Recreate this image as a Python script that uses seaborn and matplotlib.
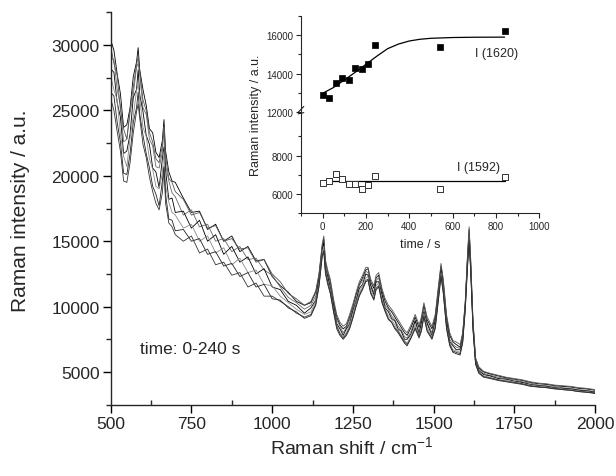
import numpy as np
import pandas as pd
import matplotlib
matplotlib.use("Agg")
import matplotlib.pyplot as plt
from matplotlib.ticker import FixedLocator, NullFormatter
import seaborn as sns

# ---------------- main spectra (Raman shift in cm-1, intensity in thousands a.u.) -------------
raman_shift = [
    500, 510, 520, 530, 540, 550, 560, 570, 580, 585, 590, 600,
    610, 620, 630, 640, 650, 660, 665, 670, 680, 690, 700,
    725, 750, 775, 800, 825, 850, 875, 900, 925, 950, 975, 1000,
    1025, 1050, 1075, 1100, 1120, 1135, 1145, 1155, 1160, 1165, 1172, 1180,
    1190, 1200, 1210, 1220, 1230, 1240, 1250, 1260, 1270, 1280, 1290, 1297,
    1305, 1315, 1322, 1330, 1340, 1350, 1360, 1370, 1380, 1390, 1400, 1410,
    1418, 1430, 1443, 1455, 1462, 1470, 1480, 1495, 1505, 1515, 1523, 1530,
    1540, 1550, 1560, 1570, 1582, 1590, 1598, 1605, 1610, 1615, 1622, 1630,
    1640, 1655, 1675, 1700, 1725, 1750, 1775, 1800, 1825, 1850, 1875, 1900,
    1925, 1950, 1975, 2000]

spec_1 = [
    30.4, 29.6, 27.8, 26.3, 23.7, 23.9, 25.2, 27.6, 28.7, 29.8, 28.1, 26.6,
    25.4, 23.6, 23.3, 21.8, 21.4, 22.7, 24.3, 21.9, 20.3, 19.6, 19.5,
    18.3, 17.2, 17.3, 15.9, 16.3, 15.0, 15.4, 14.2, 14.6, 13.5, 13.6, 12.3,
    11.6, 11.1, 10.4, 10.1, 10.3, 11.1, 12.4, 14.6, 15.2, 13.4, 12.6, 11.9,
    10.4, 9.2, 8.6, 8.3, 8.5, 9.2, 10.0, 10.9, 11.7, 12.2, 12.8, 12.9,
    11.9, 11.4, 12.2, 12.4, 11.2, 10.4, 9.9, 9.6, 9.2, 8.8, 8.4, 8.0,
    7.8, 8.4, 9.2, 8.4, 9.0, 10.1, 9.0, 8.3, 9.2, 11.4, 13.1, 11.9,
    9.2, 7.8, 7.3, 7.1, 6.9, 7.9, 10.3, 13.8, 15.9, 13.4, 8.8, 6.0,
    5.3, 5.0, 4.85, 4.7, 4.55, 4.45, 4.35, 4.2, 4.1, 4.05, 3.95, 3.9,
    3.85, 3.75, 3.7, 3.6]
spec_2 = [
    29.0, 28.9, 26.6, 25.4, 22.6, 22.8, 24.8, 26.2, 28.3, 28.6, 27.7, 25.2,
    24.7, 22.8, 22.3, 20.7, 20.6, 21.8, 23.7, 20.8, 19.6, 18.7, 18.4,
    17.0, 17.4, 16.1, 16.3, 15.0, 15.2, 14.2, 14.6, 13.6, 13.7, 12.8, 12.4,
    11.5, 10.7, 10.3, 9.8, 10.1, 10.8, 12.3, 14.5, 15.0, 13.2, 12.5, 11.6,
    10.3, 9.0, 8.5, 8.0, 8.4, 9.0, 9.9, 10.6, 11.6, 12.0, 12.7, 12.6,
    11.7, 11.1, 12.0, 12.2, 11.0, 10.1, 9.8, 9.3, 9.0, 8.5, 8.2, 7.7,
    7.6, 8.1, 9.0, 8.1, 8.8, 9.8, 8.8, 8.0, 9.0, 11.2, 13.0, 11.7,
    9.0, 7.5, 7.1, 6.9, 6.8, 7.7, 10.2, 13.7, 15.7, 13.2, 8.7, 5.9,
    5.2, 4.9, 4.75, 4.6, 4.5, 4.4, 4.25, 4.15, 4.0, 3.95, 3.9, 3.8,
    3.75, 3.65, 3.6, 3.5]
spec_3 = [
    28.2, 27.9, 25.6, 24.5, 21.7, 21.9, 23.2, 26.0, 26.6, 28.1, 26.2, 24.9,
    23.1, 22.4, 20.6, 20.3, 19.1, 21.3, 22.2, 20.4, 18.2, 18.3, 17.2,
    17.3, 16.0, 16.6, 15.0, 15.5, 14.0, 14.6, 13.4, 13.8, 12.5, 12.9, 11.5,
    11.3, 10.4, 10.1, 9.5, 9.9, 10.5, 12.1, 14.4, 14.9, 12.9, 12.3, 11.4,
    10.1, 8.7, 8.3, 7.8, 8.3, 8.7, 9.7, 10.4, 11.4, 11.7, 12.5, 12.4,
    11.6, 10.9, 11.9, 11.9, 10.9, 9.9, 9.6, 9.1, 8.9, 8.3, 8.1, 7.5,
    7.5, 7.9, 8.9, 7.9, 8.7, 9.6, 8.7, 7.8, 8.9, 11.0, 12.9, 11.5,
    8.9, 7.3, 7.0, 6.7, 6.7, 7.5, 10.1, 13.5, 15.6, 13.0, 8.6, 5.8,
    5.1, 4.8, 4.7, 4.5, 4.45, 4.3, 4.2, 4.05, 3.95, 3.9, 3.8, 3.75,
    3.7, 3.6, 3.55, 3.45]
spec_4 = [
    27.6, 26.6, 25.8, 23.2, 21.5, 20.7, 22.9, 24.6, 26.5, 27.0, 25.9, 23.7,
    23.0, 21.3, 20.5, 19.2, 19.0, 20.2, 21.9, 19.2, 18.0, 17.2, 17.0,
    16.0, 16.3, 15.0, 15.4, 14.1, 14.5, 13.2, 13.7, 12.6, 12.8, 11.7, 11.6,
    10.8, 10.3, 9.8, 9.4, 9.6, 10.4, 11.8, 14.1, 14.6, 12.8, 12.0, 11.3,
    9.8, 8.6, 8.0, 7.7, 8.0, 8.6, 9.4, 10.3, 11.1, 11.6, 12.2, 12.3,
    11.3, 10.8, 11.6, 11.8, 10.6, 9.8, 9.3, 9.0, 8.6, 8.2, 7.8, 7.4,
    7.2, 7.8, 8.6, 7.8, 8.4, 9.5, 8.4, 7.7, 8.6, 10.8, 12.6, 11.3,
    8.6, 7.2, 6.7, 6.6, 6.5, 7.4, 9.9, 13.3, 15.3, 12.8, 8.4, 5.7,
    5.0, 4.7, 4.6, 4.4, 4.35, 4.25, 4.1, 4.0, 3.9, 3.85, 3.75, 3.7,
    3.65, 3.55, 3.5, 3.4]
spec_5 = [
    26.4, 26.1, 24.1, 22.6, 20.2, 20.1, 21.7, 24.1, 25.2, 26.4, 24.7, 23.1,
    21.7, 20.6, 19.2, 18.6, 17.7, 19.6, 20.7, 18.6, 16.7, 16.6, 15.8,
    15.9, 15.0, 15.2, 14.0, 14.2, 13.1, 13.3, 12.3, 12.6, 11.5, 11.7, 10.6,
    10.5, 9.9, 9.6, 9.1, 9.3, 10.1, 11.5, 13.8, 14.2, 12.5, 11.7, 11.0,
    9.6, 8.3, 7.8, 7.5, 7.8, 8.3, 9.1, 10.0, 10.8, 11.3, 11.9, 12.0,
    11.0, 10.5, 11.3, 11.5, 10.3, 9.6, 9.0, 8.8, 8.3, 8.0, 7.6, 7.2,
    7.0, 7.6, 8.3, 7.6, 8.1, 9.2, 8.1, 7.5, 8.3, 10.5, 12.3, 11.0,
    8.3, 7.0, 6.5, 6.4, 6.3, 7.2, 9.7, 13.0, 14.9, 12.6, 8.2, 5.6,
    4.9, 4.6, 4.5, 4.35, 4.25, 4.15, 4.05, 3.9, 3.85, 3.8, 3.7, 3.65,
    3.6, 3.5, 3.45, 3.35]
spec_6 = [
    29.9, 28.6, 27.7, 25.1, 23.6, 22.8, 25.1, 26.8, 28.5, 29.1, 28.0, 25.8,
    25.0, 23.3, 22.6, 21.3, 21.0, 22.3, 23.8, 21.5, 19.8, 19.5, 18.8,
    18.2, 17.0, 17.2, 16.0, 16.2, 15.0, 15.2, 14.4, 14.5, 13.4, 13.6, 12.5,
    11.9, 11.0, 10.6, 10.1, 10.4, 11.2, 12.5, 14.8, 15.4, 13.6, 12.8, 12.1,
    10.6, 9.4, 8.8, 8.5, 8.7, 9.4, 10.2, 11.1, 11.9, 12.4, 13.0, 13.0,
    12.1, 11.6, 12.4, 12.6, 11.4, 10.6, 10.1, 9.8, 9.4, 9.0, 8.6, 8.2,
    8.0, 8.6, 9.4, 8.6, 9.2, 10.3, 9.2, 8.5, 9.4, 11.6, 13.3, 12.1,
    9.4, 8.0, 7.4, 7.3, 7.1, 8.0, 10.4, 14.0, 16.1, 13.6, 9.0, 6.1,
    5.4, 5.05, 4.9, 4.75, 4.6, 4.5, 4.4, 4.25, 4.15, 4.1, 4.0, 3.95,
    3.9, 3.8, 3.75, 3.65]
spec_7 = [
    25.9, 25.0, 23.4, 21.9, 19.6, 19.5, 21.0, 23.3, 24.9, 25.5, 24.4, 22.4,
    21.4, 19.9, 18.8, 17.9, 17.4, 18.7, 20.6, 17.9, 16.4, 16.1, 15.5,
    15.0, 15.4, 14.1, 14.4, 13.2, 13.4, 12.4, 12.6, 11.5, 11.8, 10.8, 10.8,
    10.4, 10.0, 9.5, 9.2, 9.4, 10.2, 11.6, 13.9, 14.3, 12.7, 11.9, 11.1,
    9.7, 8.5, 7.9, 7.6, 7.9, 8.4, 9.2, 10.1, 10.9, 11.4, 12.0, 12.1,
    11.1, 10.6, 11.4, 11.6, 10.4, 9.7, 9.1, 8.8, 8.4, 8.1, 7.7, 7.3,
    7.1, 7.6, 8.4, 7.7, 8.2, 9.3, 8.2, 7.6, 8.4, 10.6, 12.4, 11.1,
    8.4, 7.1, 6.6, 6.5, 6.4, 7.3, 9.8, 13.1, 15.1, 12.7, 8.3, 5.6,
    4.95, 4.65, 4.55, 4.4, 4.3, 4.2, 4.1, 3.95, 3.85, 3.8, 3.75, 3.65,
    3.6, 3.5, 3.45, 3.4]

spectra = [spec_1, spec_2, spec_3, spec_4, spec_5, spec_6, spec_7]
trace_colors = ["black", "#6a6a6a", "black", "#8a8a8a", "#222222", "#555555", "#333333"]

# ---------------- inset data ----------------
time_s = [0, 30, 60, 90, 120, 150, 180, 210, 240, 540, 840]
I_1620 = [12900, 12750, 13530, 13790, 13650, 14320, 14260, 14510, 15490, 15370, 16210]
I_1592 = [6570, 6690, 7020, 6780, 6500, 6500, 6290, 6450, 6950, 6290, 6900]
fit_time = [0, 50, 100, 150, 200, 250, 300, 350, 400, 450, 500, 600, 700, 840]
fit_1620 = [12980, 13280, 13670, 14070, 14490, 14910, 15300, 15540, 15700, 15790,
            15840, 15880, 15895, 15900]
fit_time_1592 = [0, 840]
fit_1592 = [6660, 6660]

main_xticks = [500, 750, 1000, 1250, 1500, 1750, 2000]
main_yticks = [5000, 10000, 15000, 20000, 25000, 30000]
inset_xticks = [0, 200, 400, 600, 800, 1000]
inset_yticks = [6000, 8000, 12000, 14000, 16000]

# ---------------- figure ----------------
sns.set_style("ticks")
plt.rcParams["font.family"] = ["Liberation Sans", "DejaVu Sans"]
plt.rcParams["mathtext.fontset"] = "custom"
plt.rcParams["mathtext.rm"] = "Liberation Sans"
plt.rcParams["mathtext.default"] = "regular"
plt.rcParams["axes.linewidth"] = 1.0

fig = plt.figure(figsize=(6.16, 4.77), dpi=100)
ax = fig.add_axes([0.1797, 0.1495, 0.966 - 0.1797, 0.972 - 0.1495])

rows = []
for k, sp in enumerate(spectra):
    for xv, yv in zip(raman_shift, sp):
        rows.append({"shift": xv, "intensity": yv * 1000.0, "trace": k})
df = pd.DataFrame(rows)
sns.lineplot(data=df, x="shift", y="intensity", hue="trace", palette=trace_colors,
             estimator=None, sort=False, lw=0.6, legend=False, ax=ax)

ax.set_xlim(500, 2000)
ax.set_ylim(2500, 32500)
ax.set_xticks(main_xticks)
ax.set_xticklabels([str(v) for v in main_xticks])
ax.xaxis.set_minor_locator(FixedLocator(np.arange(625, 2000, 250)))
ax.set_yticks(main_yticks)
ax.set_yticklabels([str(v) for v in main_yticks])
ax.yaxis.set_minor_locator(FixedLocator(np.arange(2500, 32501, 5000)))
ax.tick_params(axis="both", which="major", labelsize=12.5, length=6, width=1.0,
               direction="out", color="black", pad=2)
ax.tick_params(axis="x", which="minor", length=3.5, width=1.0, direction="in")
ax.tick_params(axis="y", which="minor", length=3.5, width=1.0, direction="out")
for s in ["top", "right"]:
    ax.spines[s].set_visible(False)
ax.set_xlabel("")
ax.set_ylabel("")
fig.text(0.571, 0.063, "Raman shift / cm$^{-1}$", ha="center", va="center", fontsize=14)
fig.text(0.034, 0.558, "Raman intensity / a.u.", ha="center", va="center",
         rotation=90, fontsize=15)
ax.text(592, 6800, "time: 0-240 s", fontsize=12.5, ha="left", va="center")

# ---------------- inset with broken y axis ----------------
def fwd(y):
    y = np.asarray(y, dtype=float)
    return np.where(y < 10000, y,
                    np.where(y < 12000, 10000 + (y - 10000) * 0.13, y - 1740))


def inv(v):
    v = np.asarray(v, dtype=float)
    return np.where(v < 10000, v,
                    np.where(v < 10260, 10000 + (v - 10000) / 0.13, v + 1740))


ax2 = fig.add_axes([0.4886, 0.5507, 0.3869, 0.4137])
ax2.set_facecolor("none")
ax2.set_yscale("function", functions=(fwd, inv))

sns.lineplot(x=fit_time, y=fit_1620, color="black", lw=0.9, ax=ax2)
sns.lineplot(x=fit_time_1592, y=fit_1592, color="black", lw=0.9, ax=ax2)
sns.scatterplot(x=time_s, y=I_1620, marker="s", s=18, color="black",
                edgecolor="black", linewidth=0.5, ax=ax2, zorder=3)
sns.scatterplot(x=time_s, y=I_1592, marker="s", s=18, facecolor="white",
                edgecolor="#333333", linewidth=0.7, ax=ax2, zorder=3)

ax2.set_xlim(-100, 1000)
ax2.set_ylim(5000, 17000)
ax2.set_xticks(inset_xticks)
ax2.set_xticklabels([str(v) for v in inset_xticks])
ax2.xaxis.set_minor_locator(FixedLocator([-100, 100, 300, 500, 700, 900]))
ax2.yaxis.set_major_locator(FixedLocator(inset_yticks))
ax2.set_yticklabels([str(v) for v in inset_yticks])
ax2.yaxis.set_minor_locator(FixedLocator([5000, 7000, 9000, 13000, 15000, 17000]))
ax2.yaxis.set_minor_formatter(NullFormatter())
ax2.tick_params(axis="both", which="major", labelsize=7, length=3.5, width=0.8,
                direction="out", pad=2)
ax2.tick_params(axis="both", which="minor", length=2, width=0.8, direction="out")
for s in ["top", "right"]:
    ax2.spines[s].set_visible(False)
for s in ["left", "bottom"]:
    ax2.spines[s].set_linewidth(0.8)
ax2.set_xlabel("time / s", fontsize=9, labelpad=5)
ax2.set_ylabel("Raman intensity / a.u.", fontsize=9, labelpad=3)

# break marks on the inset y axis
trans = ax2.get_yaxis_transform()
ax2.plot([-0.012, 0.012], [11300, 11800], transform=trans, color="black",
         lw=0.7, clip_on=False)
ax2.plot([-0.012, 0.012], [11900, 12300], transform=trans, color="black",
         lw=0.7, clip_on=False)

ax2.text(705, 15100, "I (1620)", fontsize=9, ha="left", va="center")
ax2.text(620, 7400, "I (1592)", fontsize=9, ha="left", va="center")

fig.savefig("out.png", dpi=100)
